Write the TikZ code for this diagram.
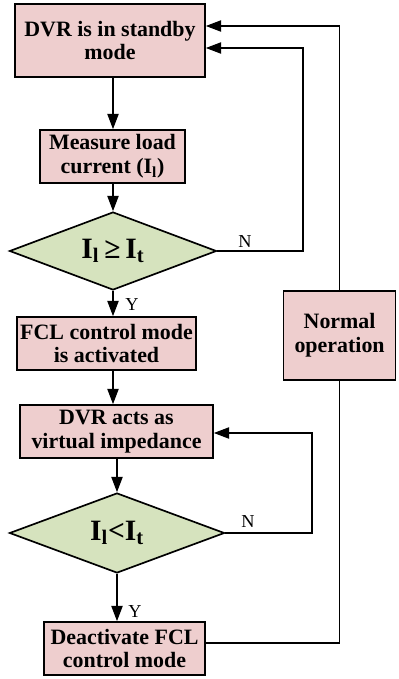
\documentclass[tikz,border=0pt]{standalone}
\usepackage{fontspec}
\setmainfont{Liberation Serif}
\usetikzlibrary{shapes.geometric,arrows.meta}

\definecolor{boxpink}{RGB}{238,206,206}
\definecolor{decgreen}{RGB}{214,227,190}

\begin{document}
\begin{tikzpicture}[
    block/.style={draw, line width=1.2pt, fill=boxpink, align=center, inner sep=0pt,
        font=\fontsize{15.6}{17}\selectfont\bfseries},
    decision/.style={draw, line width=1.2pt, fill=decgreen, diamond, aspect=2.6, inner sep=0pt,
        font=\fontsize{21}{23}\selectfont\bfseries},
    lbl/.style={font=\fontsize{13}{14}\selectfont},
    flow/.style={line width=1pt, -{Triangle[length=3.8mm,width=2.8mm]}},
    wire/.style={line width=1pt}]
	\useasboundingbox (0,0) rectangle (9.95,-16.975);
	% main column
	\node[block, minimum width=4.75cm, minimum height=1.825cm] (standby) at (2.75,-1.0125) {DVR is in standby\\mode};
	\node[block, minimum width=3.625cm, minimum height=1.325cm] (measure) at (2.8125,-3.9125) {Measure load\\current (I\textsubscript{l})};
	\node[decision, minimum width=5.175cm, minimum height=1.95cm] (check1) at (2.825,-6.275) {I\textsubscript{l}\,≥\,I\textsubscript{t}};
	\node[block, minimum width=4.475cm, minimum height=1.325cm] (active) at (2.6625,-8.5875) {FCL control mode\\is activated};
	\node[block, minimum width=4.825cm, minimum height=1.325cm] (virtual) at (2.9125,-10.7875) {DVR acts as\\virtual impedance};
	\node[decision, minimum width=5.375cm, minimum height=2.0cm] (check2) at (2.925,-13.325) {I\textsubscript{l}<I\textsubscript{t}};
	\node[block, minimum width=4.025cm, minimum height=1.325cm] (deact) at (3.1125,-16.2125) {Deactivate FCL\\control mode};
	\node[block, minimum width=2.8cm, minimum height=2.225cm] (normal) at (8.49,-8.3875) {Normal\\operation};

	% labels
	\node[lbl] (y1) at (3.3,-7.625) {Y};
	\node[lbl] (y2) at (3.375,-15.3) {Y};
	\node[lbl] (n1) at (6.125,-6.05) {N};
	\node[lbl] (n2) at (6.2,-13.05) {N};

	% turning points of the loops
	\coordinate (loop1) at (7.575,-1.2);
	\coordinate (loop2) at (7.8,-10.825);
	\coordinate (top) at (8.49,-0.65);

	\draw[flow] (standby.south -| check1) -- (check1 |- measure.north);
	\draw[flow] (measure.south -| check1) -- (check1.north);
	\draw[flow] (check1.south) -- (check1.south |- active.north);
	\draw[flow] (active.south -| check1) -- (check1 |- virtual.north);
	\draw[flow] (virtual.south -| check2) -- (check2.north);
	\draw[flow] (check2.south) -- (check2.south |- deact.north);

	\draw[flow] (check1.east) -| (loop1) -- (loop1 -| standby.east);
	\draw[flow] (check2.east) -| (loop2) -- (loop2 -| virtual.east);
	\draw[wire] ([yshift=0.1375cm]deact.east) -| (normal.south);
	\draw[flow] (normal.north) -- (top) -- (top -| standby.east);
\end{tikzpicture}
\end{document}
